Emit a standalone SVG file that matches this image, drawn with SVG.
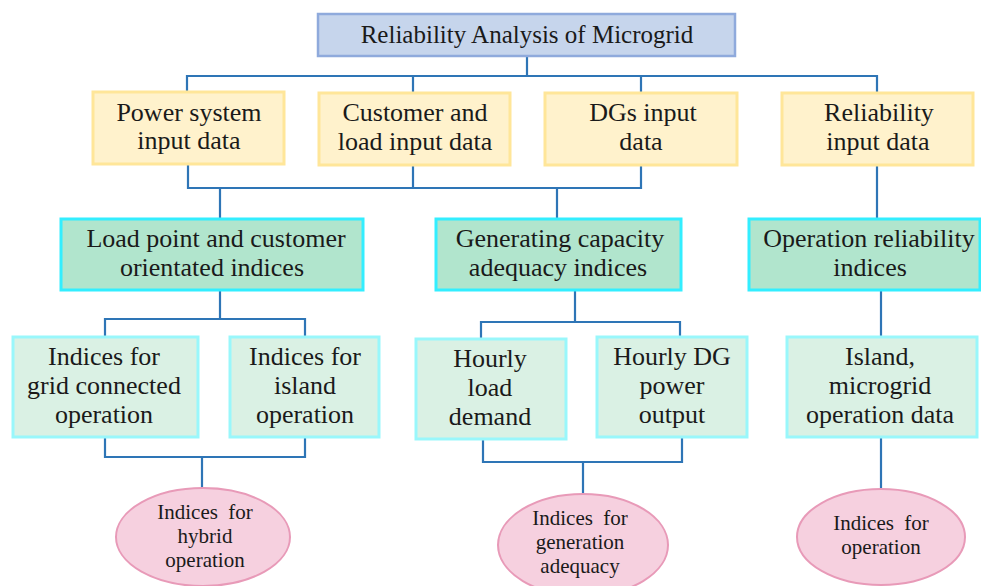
<svg xmlns="http://www.w3.org/2000/svg" width="981" height="586" viewBox="0 0 981 586">
<style>
text{font-family:'Liberation Serif','DejaVu Serif',serif;fill:#1a1a1a;text-anchor:middle}
.t1{font-size:25px}
.t2{font-size:26px}
.t3{font-size:21px;word-spacing:5px}
.top{fill:#c6d5ec;stroke:#8faadc;stroke-width:2.5}
.yel{fill:#fff2cc;stroke:#ffe699;stroke-width:3}
.grn{fill:#b1e5cd;stroke:#33eeff;stroke-width:3}
.lgr{fill:#daf1e4;stroke:#99f7fb;stroke-width:3}
.ell{fill:#f6d0df;stroke:#e89ab8;stroke-width:2}
.con{fill:none;stroke:#2e75b6;stroke-width:2.2}
</style>
<rect width="981" height="586" fill="#ffffff"/>
<g id="connectors" class="con">
<path d="M187,93 V76 H877 V93 M527,56 V76 M413,76 V93 M641,76 V93"/>
<path d="M188,164 V188 H641 V165 M413,165 V188 M220,188 V219 M557,188 V219"/>
<path d="M877,165 V219"/>
<path d="M220,290 V319 M105,337 V319 H305 V337"/>
<path d="M575,290 V322 M481,339 V322 H680 V337"/>
<path d="M881,290 V337"/>
<path d="M105,437 V457 H305 V437 M202,457 V488"/>
<path d="M483,439 V462 H682 V437 M583,462 V494"/>
<path d="M881,437 V489"/>
</g>
<g id="root"><rect class="top" x="318" y="14" width="417" height="42"/><text class="t1" x="527" y="43">Reliability Analysis of Microgrid</text></g>
<g id="power"><rect class="yel" x="93" y="92" width="191" height="72"/><text class="t2" x="189" y="121">Power system</text><text class="t2" x="189" y="149">input data</text></g>
<g id="customer"><rect class="yel" x="319" y="93" width="191" height="72"/><text class="t2" x="415" y="121">Customer and</text><text class="t2" x="415" y="150">load input data</text></g>
<g id="dgs"><rect class="yel" x="545" y="93" width="192" height="72"/><text class="t2" x="643" y="121">DGs input</text><text class="t2" x="641" y="150">data</text></g>
<g id="reliab"><rect class="yel" x="782" y="93" width="191" height="72"/><text class="t2" x="879" y="121">Reliability</text><text class="t2" x="878" y="150">input data</text></g>
<g id="loadpoint"><rect class="grn" x="61" y="219" width="302" height="71"/><text class="t2" x="216" y="247">Load point and customer</text><text class="t2" x="212" y="276">orientated indices</text></g>
<g id="gencap"><rect class="grn" x="436" y="219" width="245" height="71"/><text class="t2" x="560" y="247">Generating capacity</text><text class="t2" x="558" y="276">adequacy indices</text></g>
<g id="opreliab"><rect class="grn" x="749" y="219" width="231" height="71"/><text class="t2" x="869" y="247">Operation reliability</text><text class="t2" x="870" y="276">indices</text></g>
<g id="gridconn"><rect class="lgr" x="13" y="337" width="185" height="100"/><text class="t2" x="104" y="365">Indices for</text><text class="t2" x="104" y="394">grid connected</text><text class="t2" x="104" y="423">operation</text></g>
<g id="island"><rect class="lgr" x="230" y="337" width="149" height="100"/><text class="t2" x="305" y="365">Indices for</text><text class="t2" x="305" y="394">island</text><text class="t2" x="305" y="423">operation</text></g>
<g id="hourlyload"><rect class="lgr" x="416" y="339" width="150" height="100"/><text class="t2" x="490" y="367">Hourly</text><text class="t2" x="490" y="396">load</text><text class="t2" x="490" y="425">demand</text></g>
<g id="hourlydg"><rect class="lgr" x="597" y="337" width="150" height="100"/><text class="t2" x="672" y="365">Hourly DG</text><text class="t2" x="672" y="394">power</text><text class="t2" x="672" y="423">output</text></g>
<g id="islandmg"><rect class="lgr" x="787" y="337" width="190" height="100"/><text class="t2" x="880" y="365">Island,</text><text class="t2" x="880" y="394">microgrid</text><text class="t2" x="880" y="423">operation data</text></g>
<g id="hybrid"><ellipse class="ell" cx="203" cy="537" rx="87" ry="49"/><text class="t3" x="205" y="519">Indices for</text><text class="t3" x="205" y="543">hybrid</text><text class="t3" x="205" y="567">operation</text></g>
<g id="genadeq"><ellipse class="ell" cx="583" cy="545" rx="85" ry="51"/><text class="t3" x="580" y="525">Indices for</text><text class="t3" x="580" y="549">generation</text><text class="t3" x="580" y="573">adequacy</text></g>
<g id="operation"><ellipse class="ell" cx="881" cy="537" rx="84" ry="48"/><text class="t3" x="881" y="530">Indices for</text><text class="t3" x="881" y="554">operation</text></g>
</svg>
